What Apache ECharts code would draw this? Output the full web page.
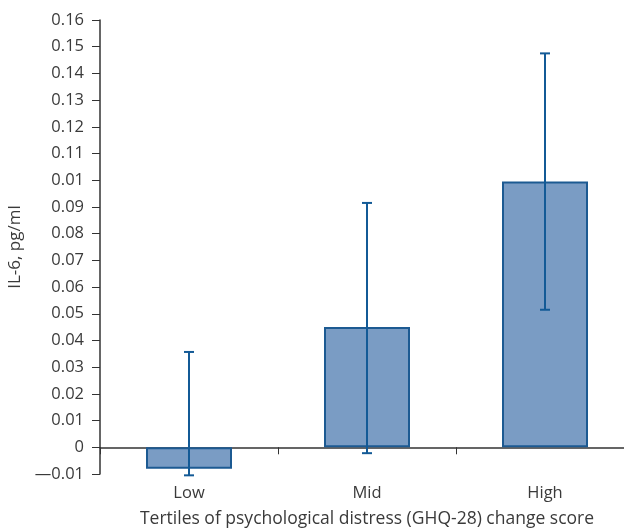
<!DOCTYPE html>
<html>
<head>
<meta charset="utf-8">
<script src="https://cdn.jsdelivr.net/npm/echarts@6/dist/echarts.min.js"></script>
<style>
  html, body { margin: 0; padding: 0; background: #fff; }
  #chart { width: 624px; height: 529px; }
</style>
</head>
<body>
<div id="chart"></div>
<script>
const categories = ['Low', 'Mid', 'High']
const means = [-0.008, 0.045, 0.0995]
const errLow = [-0.0105, -0.0022, 0.0515]
const errHigh = [0.0357, 0.0915, 0.1475]
// tick labels from -0.01 up to 0.16 (the 0.10 tick reads "0.01" in the original)
const yTickLabels = ['—0.01', '0', '0.01', '0.02', '0.03', '0.04', '0.05', '0.06', '0.07',
  '0.08', '0.09', '0.01', '0.11', '0.12', '0.13', '0.14', '0.15', '0.16']

const font = '"Open Sans", "Noto Sans", sans-serif'
const chart = echarts.init(document.getElementById('chart'))

const errData = categories.map((c, i) => [i, errLow[i], errHigh[i]])

const option = {
  animation: false,
  grid: { left: 100, top: 20, right: -10, bottom: 55, outerBoundsMode: 'none' },
  xAxis: {
    type: 'category',
    data: categories,
    name: 'Tertiles of psychological distress (GHQ-28) change score',
    nameLocation: 'middle',
    nameGap: 36,
    nameTextStyle: { fontFamily: font, fontSize: 17.5, color: '#3a3a3a' },
    axisLine: { onZero: true, lineStyle: { color: '#333', width: 1.5 } },
    axisTick: { show: true, length: 7, lineStyle: { color: '#333' } },
    axisLabel: { margin: 11, fontFamily: font, fontSize: 16.5, color: '#3a3a3a' },
    splitLine: { show: false }
  },
  yAxis: {
    type: 'value',
    min: -0.01,
    max: 0.16,
    interval: 0.01,
    name: 'IL-6, pg/ml',
    nameLocation: 'middle',
    nameGap: 71,
    nameTextStyle: { fontFamily: font, fontSize: 17, color: '#3a3a3a' },
    axisLine: { show: true, onZero: false, lineStyle: { color: '#333', width: 1.5 } },
    axisTick: { show: true, length: 8, lineStyle: { color: '#333' } },
    axisLabel: {
      fontFamily: font, fontSize: 16.5, color: '#3a3a3a', margin: 16,
      formatter: v => yTickLabels[Math.round((v + 0.01) / 0.01)]
    },
    splitLine: { show: false }
  },
  series: [
    {
      type: 'bar',
      data: means,
      barWidth: 86,
      itemStyle: { color: '#7a9cc4', borderColor: '#1c5a92', borderWidth: 2 }
    },
    {
      type: 'custom',
      data: errData,
      z: 10,
      renderItem: function (params, api) {
        const x = api.value(0)
        const lo = api.coord([x, api.value(1)])
        const hi = api.coord([x, api.value(2)])
        const hw = 5
        const style = { stroke: '#135a96', lineWidth: 2 }
        return {
          type: 'group',
          children: [
            { type: 'line', shape: { x1: lo[0], y1: lo[1], x2: hi[0], y2: hi[1] }, style: style },
            { type: 'line', shape: { x1: hi[0] - hw, y1: hi[1], x2: hi[0] + hw, y2: hi[1] }, style: style },
            { type: 'line', shape: { x1: lo[0] - hw, y1: lo[1], x2: lo[0] + hw, y2: lo[1] }, style: style }
          ]
        }
      }
    }
  ]
}

chart.setOption(option)
</script>
</body>
</html>
